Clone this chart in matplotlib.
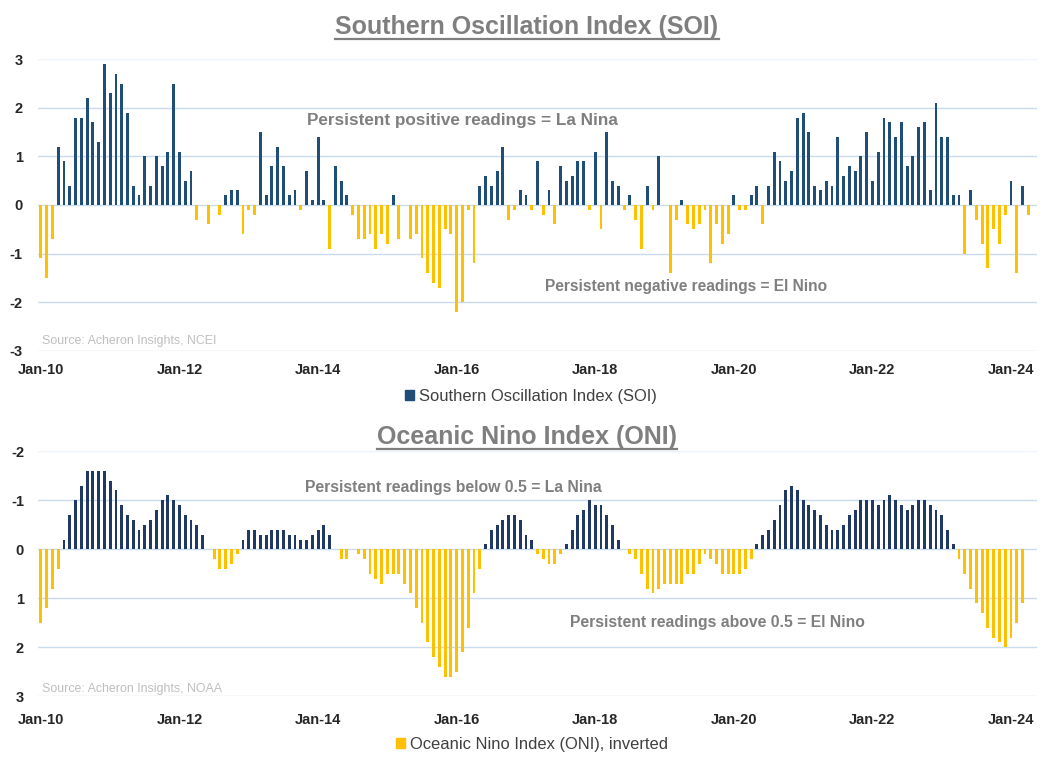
import matplotlib
matplotlib.use("Agg")
import matplotlib.pyplot as plt
from matplotlib.patches import Patch
from matplotlib.lines import Line2D
import numpy as np

# ---------------- data (monthly, from Jan-2010) ----------------
soi_2010 = [-1.1, -1.5, -0.7, 1.2, 0.9, 0.4, 1.8, 1.8, 2.2, 1.7, 1.3, 2.9]
soi_2011 = [2.3, 2.7, 2.5, 1.9, 0.4, 0.2, 1.0, 0.4, 1.0, 0.8, 1.1, 2.5]
soi_2012 = [1.1, 0.5, 0.7, -0.3, 0.0, -0.4, 0.0, -0.2, 0.2, 0.3, 0.3, -0.6]
soi_2013 = [-0.1, -0.2, 1.5, 0.2, 0.8, 1.2, 0.8, 0.2, 0.3, -0.1, 0.7, 0.1]
soi_2014 = [1.4, 0.1, -0.9, 0.8, 0.5, 0.2, -0.2, -0.7, -0.7, -0.6, -0.9, -0.6]
soi_2015 = [-0.8, 0.2, -0.7, 0.0, -0.7, -0.6, -1.1, -1.4, -1.6, -1.7, -0.5, -0.6]
soi_2016 = [-2.2, -2.0, -0.1, -1.2, 0.4, 0.6, 0.4, 0.7, 1.2, -0.3, -0.1, 0.3]
soi_2017 = [0.2, -0.1, 0.9, -0.2, 0.3, -0.4, 0.8, 0.5, 0.6, 0.9, 0.9, -0.1]
soi_2018 = [1.1, -0.5, 1.5, 0.5, 0.4, -0.1, 0.2, -0.3, -0.9, 0.4, -0.1, 1.0]
soi_2019 = [0.0, -1.4, -0.3, 0.1, -0.4, -0.5, -0.4, -0.1, -1.2, -0.4, -0.8, -0.6]
soi_2020 = [0.2, -0.1, -0.1, 0.2, 0.4, -0.4, 0.4, 1.1, 0.9, 0.5, 0.7, 1.8]
soi_2021 = [1.9, 1.5, 0.4, 0.3, 0.5, 0.4, 1.4, 0.6, 0.8, 0.7, 1.0, 1.5]
soi_2022 = [0.5, 1.1, 1.8, 1.7, 1.4, 1.7, 0.8, 1.0, 1.6, 1.7, 0.3, 2.1]
soi_2023 = [1.4, 1.4, 0.2, 0.2, -1.0, 0.3, -0.3, -0.8, -1.3, -0.5, -0.8, -0.2]
soi_2024 = [0.5, -1.4, 0.4, -0.2]

oni_2010 = [1.5, 1.2, 0.8, 0.4, -0.2, -0.7, -1.0, -1.3, -1.6, -1.6, -1.6, -1.6]
oni_2011 = [-1.4, -1.2, -0.9, -0.7, -0.6, -0.4, -0.5, -0.6, -0.8, -1.0, -1.1, -1.0]
oni_2012 = [-0.9, -0.7, -0.6, -0.5, -0.3, 0.0, 0.2, 0.4, 0.4, 0.3, 0.1, -0.2]
oni_2013 = [-0.4, -0.4, -0.3, -0.3, -0.4, -0.4, -0.4, -0.3, -0.3, -0.2, -0.2, -0.3]
oni_2014 = [-0.4, -0.5, -0.3, 0.0, 0.2, 0.2, 0.0, 0.1, 0.2, 0.5, 0.6, 0.7]
oni_2015 = [0.5, 0.5, 0.5, 0.7, 0.9, 1.2, 1.5, 1.9, 2.2, 2.4, 2.6, 2.6]
oni_2016 = [2.5, 2.1, 1.6, 0.9, 0.4, -0.1, -0.4, -0.5, -0.6, -0.7, -0.7, -0.6]
oni_2017 = [-0.3, -0.2, 0.1, 0.2, 0.3, 0.3, 0.1, -0.1, -0.4, -0.7, -0.8, -1.0]
oni_2018 = [-0.9, -0.9, -0.7, -0.5, -0.2, 0.0, 0.1, 0.2, 0.5, 0.8, 0.9, 0.8]
oni_2019 = [0.7, 0.7, 0.7, 0.7, 0.5, 0.5, 0.3, 0.1, 0.2, 0.3, 0.5, 0.5]
oni_2020 = [0.5, 0.5, 0.4, 0.2, -0.1, -0.3, -0.4, -0.6, -0.9, -1.2, -1.3, -1.2]
oni_2021 = [-1.0, -0.9, -0.8, -0.7, -0.5, -0.4, -0.4, -0.5, -0.7, -0.8, -1.0, -1.0]
oni_2022 = [-1.0, -0.9, -1.0, -1.1, -1.0, -0.9, -0.8, -0.9, -1.0, -1.0, -0.9, -0.8]
oni_2023 = [-0.7, -0.4, -0.1, 0.2, 0.5, 0.8, 1.1, 1.3, 1.6, 1.8, 1.9, 2.0]
oni_2024 = [1.8, 1.5, 1.1]

soi = np.array(soi_2010 + soi_2011 + soi_2012 + soi_2013 + soi_2014 + soi_2015 +
               soi_2016 + soi_2017 + soi_2018 + soi_2019 + soi_2020 + soi_2021 +
               soi_2022 + soi_2023 + soi_2024)
oni = np.array(oni_2010 + oni_2011 + oni_2012 + oni_2013 + oni_2014 + oni_2015 +
               oni_2016 + oni_2017 + oni_2018 + oni_2019 + oni_2020 + oni_2021 +
               oni_2022 + oni_2023 + oni_2024)

x_labels = ["Jan-10", "Jan-12", "Jan-14", "Jan-16", "Jan-18", "Jan-20", "Jan-22", "Jan-24"]
x_label_months = [0, 24, 48, 72, 96, 120, 144, 168]
soi_yticks = [3, 2, 1, 0, -1, -2, -3]
oni_yticks = [-2, -1, 0, 1, 2, 3]

# ---------------- style ----------------
NAVY_SOI = "#1F4E79"
NAVY_ONI = "#203864"
YELLOW = "#FFC000"
GRID = "#C9DCEF"
GRID_TOP = "#EEF3F9"
TITLE_GRAY = "#7F7F7F"
AXIS_TXT = "#262626"

plt.rcParams["font.family"] = ["Liberation Sans", "DejaVu Sans"]

W, H = 1056, 767
fig = plt.figure(figsize=(W / 100, H / 100), dpi=100)


def fx(px):
    return px / W


def fy(py):
    return 1 - py / H


ax1 = fig.add_axes([fx(38), fy(350.8), fx(1037) - fx(38), fy(59.2) - fy(350.8)])
ax2 = fig.add_axes([fx(38), fy(696.3), fx(1037) - fx(38), fy(451.3) - fy(696.3)])


def style(ax, yticks, ylim, xpad, ypad, top_val):
    ax.set_xlim(-0.5, 172.5)
    ax.set_ylim(*ylim)
    ax.set_yticks(yticks)
    ax.set_yticklabels([str(t) for t in yticks], fontsize=10.5, fontweight="bold", color=AXIS_TXT)
    ax.set_xticks(x_label_months)
    ax.set_xticklabels(x_labels, fontsize=10.5, fontweight="bold", color=AXIS_TXT)
    for s in ax.spines.values():
        s.set_visible(False)
    for t in yticks:
        ax.axhline(t, color=GRID_TOP if t == top_val else GRID, lw=1, zorder=1)
    ax.tick_params(axis="x", length=0, pad=xpad)
    ax.tick_params(axis="y", length=0, pad=ypad)


months_soi = np.arange(len(soi))
months_oni = np.arange(len(oni))

ax1.bar(months_soi, soi, width=0.5,
        color=[NAVY_SOI if v >= 0 else YELLOW for v in soi], zorder=3)
style(ax1, soi_yticks, (-3, 3), 9, 11, 3)

ax2.bar(months_oni, oni, width=0.5,
        color=[NAVY_ONI if v < 0 else YELLOW for v in oni], zorder=3)
style(ax2, oni_yticks, (3, -2), 12, 10, -2)

# titles
t1 = fig.text(fx(527), fy(27), "Southern Oscillation Index (SOI)", ha="center", va="center",
              fontsize=18, fontweight="bold", color=TITLE_GRAY)
t2 = fig.text(fx(527), fy(437), "Oceanic Nino Index (ONI)", ha="center", va="center",
              fontsize=18, fontweight="bold", color=TITLE_GRAY)

# annotations
ann_kw = dict(ha="center", va="center", fontweight="bold", color=TITLE_GRAY)
fig.text(fx(462), fy(120), "Persistent positive readings = La Nina", fontsize=12.3, **ann_kw)
fig.text(fx(686.5), fy(287), "Persistent negative readings = El Nino", fontsize=11.2, **ann_kw)
fig.text(fx(453.5), fy(487), "Persistent readings below 0.5 = La Nina", fontsize=11.3, **ann_kw)
fig.text(fx(717), fy(623), "Persistent readings above 0.5 = El Nino", fontsize=11.3, **ann_kw)

# sources
src_kw = dict(ha="left", va="center", fontsize=8.9, color="#BFBFBF")
fig.text(fx(42), fy(341), "Source: Acheron Insights, NCEI", **src_kw)
fig.text(fx(42), fy(689), "Source: Acheron Insights, NOAA", **src_kw)

# legends
leg_kw = dict(frameon=False, fontsize=11.9, handlelength=0.55, handleheight=0.55,
              handletextpad=0.3, labelcolor="#404040", borderaxespad=0)
fig.legend(handles=[Patch(color=NAVY_SOI, label="Southern Oscillation Index (SOI)")],
           loc="center", bbox_to_anchor=(fx(531), fy(396)), **leg_kw)
fig.legend(handles=[Patch(color=YELLOW, label="Oceanic Nino Index (ONI), inverted")],
           loc="center", bbox_to_anchor=(fx(532), fy(744)), **leg_kw)

# underline titles
fig.canvas.draw()
for t in (t1, t2):
    bb = t.get_window_extent()
    yline = bb.y0 + 0.5
    fig.add_artist(Line2D([bb.x0 / W, bb.x1 / W], [yline / H, yline / H],
                          transform=fig.transFigure, color=TITLE_GRAY, lw=1.6))

fig.savefig("out.png", dpi=100)
